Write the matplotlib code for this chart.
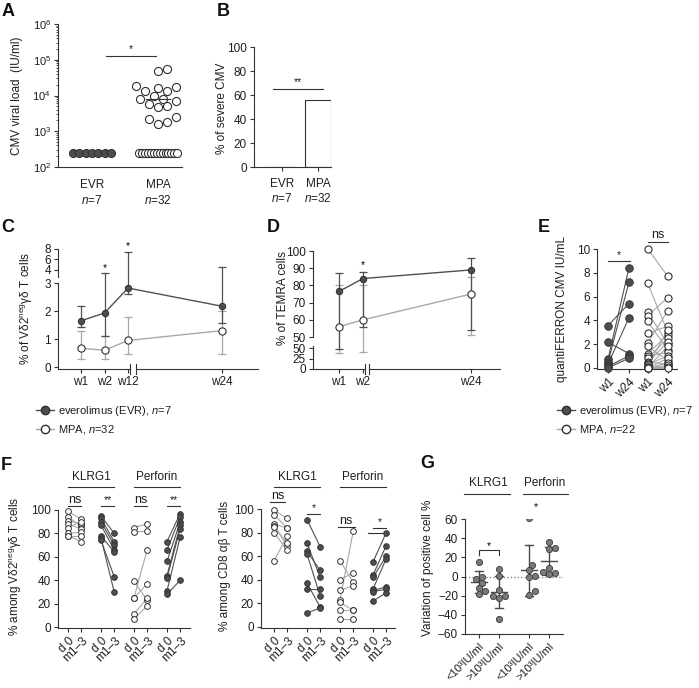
import numpy as np
import matplotlib
matplotlib.use("Agg")
import matplotlib.pyplot as plt
from matplotlib.lines import Line2D
from matplotlib.transforms import blended_transform_factory as blend

plt.rcParams['font.family'] = ['Liberation Sans', 'DejaVu Sans']
plt.rcParams['mathtext.fontset'] = 'custom'
plt.rcParams['mathtext.rm'] = 'Liberation Sans'
plt.rcParams['mathtext.it'] = 'Liberation Sans:italic'
plt.rcParams['mathtext.bf'] = 'Liberation Sans:bold'
plt.rcParams['font.size'] = 8

# ---------------- data ----------------
# A: CMV viral load
a_groups = ["EVR", "MPA"]
a_n = [7, 32]
a_limit = 250
a_evr_load = [250, 250, 250, 250, 250, 250, 250]
a_mpa_load = [55000, 47000, 18600, 17000, 16000, 13500, 13000,
              9400, 7900, 7900, 6800, 5700, 5100, 4900,
              2500, 2200, 1860, 1600,
              250, 250, 250, 250, 250, 250, 250, 250, 250, 250, 250, 250, 250, 250]
# B: severe CMV
b_severe_pct = [0, 56.25]
# C: % of Vd2neg gd T cells
c_weeks = ["w1", "w2", "w12", "w24"]
c_evr_mean = [1.65, 1.93, 2.82, 2.17]
c_evr_lo = [1.42, 1.12, 2.60, 1.57]
c_evr_hi = [2.17, 3.50, 7.50, 4.50]
c_mpa_mean = [0.67, 0.60, 0.95, 1.30]
c_mpa_lo = [0.27, 0.30, 0.47, 0.47]
c_mpa_hi = [1.30, 1.12, 1.77, 2.00]
# D: % of TEMRA cells
d_weeks = ["w1", "w2", "w24"]
d_evr_mean = [76.5, 84.0, 89.0]
d_evr_lo = [47.0, 56.0, 54.0]
d_evr_hi = [87.0, 88.0, 96.0]
d_mpa_mean = [56.0, 60.0, 75.0]
d_mpa_lo = [38.0, 40.0, 51.0]
d_mpa_hi = [80.0, 80.0, 85.0]
# E: quantiFERRON
e_ticks = ["w1", "w24", "w1", "w24"]
e_evr_w1 = [3.55, 2.15, 0.7, 0.45, 0.3, 0.12, 0.0]
e_evr_w24 = [5.4, 1.2, 8.4, 7.2, 4.2, 1.0, 0.8]
e_mpa_w1 = [10.0, 7.1, 4.7, 4.4, 3.9, 2.9, 2.1, 1.8, 1.2, 1.0, 0.8,
            0.5, 0.4, 0.3, 0.2, 0.1, 0.05, 0.0, 0.0, 0.0, 0.0, 0.0]
e_mpa_w24 = [7.7, 3.0, 2.0, 5.9, 1.5, 3.5, 4.8, 0.6, 2.8, 1.3, 2.5,
             0.3, 2.2, 1.0, 3.2, 0.1, 1.8, 0.8, 0.4, 0.2, 0.05, 0.0]
# F: paired d0 vs m1-3
f_ticks = ["d 0", "m1\u20133"] * 4
f_vd2_klrg1_mpa = ([99, 94, 91, 88, 85, 80, 78, 78], [92, 86, 88, 84, 90, 81, 73, 78])
f_vd2_klrg1_evr = ([95, 93, 90, 87, 78, 76, 74], [80, 73, 70, 66, 64, 30, 43])
f_vd2_perf_mpa = ([85, 81, 39, 25, 25, 11, 7], [88, 82, 23, 66, 37, 25, 18])
f_vd2_perf_evr = ([73, 66, 56, 44, 42, 31, 28], [97, 94, 90, 87, 84, 77, 40])
f_cd8_klrg1_mpa = ([99, 95, 87, 86, 85, 80, 56], [92, 84, 84, 69, 71, 65, 77])
f_cd8_klrg1_evr = ([91, 71, 64, 62, 37, 32, 12], [68, 42, 48, 26, 17, 32, 16])
f_cd8_perf_mpa = ([56, 40, 31, 23, 21, 14, 7], [38, 46, 35, 81, 14, 14, 7])
f_cd8_perf_evr = ([55, 44, 42, 32, 31, 30, 22], [80, 69, 60, 58, 34, 32, 29])
# G: variation of positive cells
g_ticks = ["<10\u00b3IU/ml", ">10\u00b3IU/ml", "<10\u00b3IU/ml", ">10\u00b3IU/ml"]
g_klrg1_low = [15.6, -0.4, -2.8, -6.3, -11.5, -15.0, -18.4]
g_klrg1_high = [7.6, 0.5, -14.0, -20.0, -20.0, -22.0, -44.0]
g_perf_low = [61.4, 12.1, 6.6, 0.7, 0.0, -15.6, -19.0]
g_perf_high = [36.4, 29.5, 28.5, 8.4, 5.2, 3.5, 2.5]

# ---------------- style ----------------
DARK = "#4d4d4d"
EDGE = "#303030"
EVRL = "#505050"
LIGHT = "#a8a8a8"
AXC = "#333333"
TXT = "#1e1e1e"
GREYPT = "#7a7a7a"

W, H = 699, 688
fig = plt.figure(figsize=(W / 100, H / 100), dpi=100)


def fx(x):
    return x / W


def fy(y):
    return 1 - y / H


def add_ax(l, t, r, b):
    ax = fig.add_axes([l / W, 1 - b / H, (r - l) / W, (b - t) / H])
    ax.patch.set_alpha(0)
    for s in ('top', 'right'):
        ax.spines[s].set_visible(False)
    for s in ('left', 'bottom'):
        ax.spines[s].set_color(AXC)
        ax.spines[s].set_linewidth(0.8)
    ax.tick_params(colors=AXC, labelcolor=TXT, length=3, width=0.8,
                   labelsize=8, pad=2)
    return ax


def ftext(x, y, s, **kw):
    kw.setdefault('ha', 'center')
    kw.setdefault('va', 'center')
    kw.setdefault('color', TXT)
    kw.setdefault('fontsize', 8.5)
    fig.text(fx(x), fy(y), s, **kw)


def sig(ax, x0, x1, ypx, txt=None, tsize=7.5, lw=0.8, color=AXC, toff=1):
    tr = blend(ax.transData, fig.transFigure)
    ax.plot([x0, x1], [fy(ypx), fy(ypx)], transform=tr, clip_on=False,
            color=color, lw=lw)
    if txt:
        ax.text((x0 + x1) / 2, fy(ypx - toff), txt, transform=tr, ha='center',
                va='bottom', fontsize=tsize, color=TXT, clip_on=False)


def swarm(ypx, d, step=None):
    ypx = np.asarray(ypx, float)
    step = step or d * 0.55
    order = np.argsort(ypx)
    placed = []
    off = np.zeros(len(ypx))
    for i in order:
        k = 0
        while True:
            cands = [0.0] if k == 0 else [k * step, -k * step]
            done = False
            for c in cands:
                if all((c - px) ** 2 + (ypx[i] - py) ** 2 >= (d * 0.98) ** 2
                       for px, py in placed):
                    off[i] = c
                    placed.append((c, ypx[i]))
                    done = True
                    break
            if done:
                break
            k += 1
    return off


# ---------------- panel letters ----------------
for lab, x, y in [("A", 8, 11), ("B", 223, 11), ("C", 8, 228), ("D", 273, 228),
                  ("E", 544, 227), ("F", 6, 465), ("G", 427, 464)]:
    ftext(x, y, lab, fontsize=13, fontweight='bold', color='#111111')

# ---------------- A ----------------
axA = add_ax(58, 24, 182, 167)
axA.set_yscale('log')
axA.set_ylim(1e2, 1e6)
axA.set_xlim(-0.515, 1.36)
ppu_A, ppd_A = 66.0, 35.6
for gi, vals in enumerate([a_evr_load, a_mpa_load]):
    vals = np.asarray(vals, float)
    xs = np.zeros(len(vals))
    atlim = vals <= a_limit
    nl = atlim.sum()
    xs[atlim] = np.linspace(-19, 19, nl) / ppu_A
    if (~atlim).sum():
        xs[~atlim] = swarm(np.log10(vals[~atlim]) * ppd_A, 8.2) / ppu_A
    if gi == 0:
        axA.scatter(gi + xs, vals, s=34, facecolor=DARK, edgecolor=EDGE, lw=0.7, zorder=3)
    else:
        axA.scatter(gi + xs, vals, s=34, facecolor='white', edgecolor=EDGE, lw=0.8, zorder=3)
        med = np.median(vals[~atlim])
        axA.plot([gi - 0.18, gi + 0.18], [med, med], color=AXC, lw=0.8, zorder=4)
axA.set_xticks([0, 1])
axA.set_xticklabels([f"{g}\n$\\mathit{{n}}$={n}" for g, n in zip(a_groups, a_n)],
                    fontsize=8.5)
axA.tick_params(axis='x', length=0, pad=9)
axA.set_yticks([1e2, 1e3, 1e4, 1e5, 1e6])
axA.tick_params(axis='y', which='minor', length=1.8, width=0.5)
sig(axA, 0.21, 0.97, 56, "*", toff=2)
ftext(17, 96, "CMV viral load  (IU/ml)", rotation=90)

# ---------------- B ----------------
axB = add_ax(254, 47, 331, 167)
axB.set_ylim(0, 100)
axB.set_xlim(-0.78, 1.36)
axB.bar([0, 1], b_severe_pct, width=0.7, facecolor='white', edgecolor=AXC, lw=0.8)
axB.set_xticks([0, 1])
axB.set_xticklabels([f"{g}\n$\\mathit{{n}}$={n}" for g, n in zip(a_groups, a_n)],
                    fontsize=8.5)
axB.tick_params(axis='x', pad=5)
axB.set_yticks(range(0, 101, 20))
axB.tick_params(axis='y', labelsize=8.5)
sig(axB, -0.25, 1.14, 89, "**", toff=2)
ftext(222, 108, "% of severe CMV", rotation=90)


# ---------------- broken-axis helpers ----------------
def cap(ax, x, y, cw, color, lw):
    ax.plot([x - cw, x + cw], [y, y], color=color, lw=lw, solid_capstyle='butt')


def broken_err(ax_lo, ax_hi, x, lo, hi, brk, color, cw, lw=0.9):
    top_lo = ax_lo.get_ylim()[1]
    bot_hi = ax_hi.get_ylim()[0]
    if hi <= brk:
        ax_lo.plot([x, x], [lo, hi], color=color, lw=lw)
        cap(ax_lo, x, lo, cw, color, lw)
        cap(ax_lo, x, hi, cw, color, lw)
    elif lo >= brk:
        ax_hi.plot([x, x], [lo, hi], color=color, lw=lw)
        cap(ax_hi, x, lo, cw, color, lw)
        cap(ax_hi, x, hi, cw, color, lw)
    else:
        ax_lo.plot([x, x], [lo, top_lo], color=color, lw=lw)
        ax_hi.plot([x, x], [bot_hi, hi], color=color, lw=lw)
        cap(ax_lo, x, lo, cw, color, lw)
        cap(ax_hi, x, hi, cw, color, lw)


def xbreak(ax, xs, xlim):
    ax.spines['bottom'].set_visible(False)
    tr = ax.get_xaxis_transform()
    ax.plot([xlim[0], xs[0]], [0, 0], transform=tr, clip_on=False, color=AXC, lw=0.8)
    ax.plot([xs[1], xlim[1]], [0, 0], transform=tr, clip_on=False, color=AXC, lw=0.8)
    h = 5.0 / (ax.get_position().height * H)
    for xb in xs:
        ax.plot([xb, xb], [-h, h], transform=tr, clip_on=False, color=AXC, lw=0.8)


# ---------------- C ----------------
c_pos = [0, 1, 2, 6]
c_xlim = (-0.98, 7.53)
axCl = add_ax(58, 283, 258, 369)
axCh = add_ax(58, 248, 258, 283)
axCl.set_ylim(-0.07, 3.0)
axCh.set_ylim(1.524, 8.19)
for a in (axCl, axCh):
    a.set_xlim(*c_xlim)
    a.autoscale(False)
axCh.spines['bottom'].set_visible(False)
axCh.spines['left'].set_bounds(2.67, 8.0)
axCh.set_xticks([])
axCh.set_yticks([4, 6, 8])
axCl.set_yticks([0, 1, 2, 3])
axCl.set_xticks(c_pos)
axCl.set_xticklabels(c_weeks, fontsize=8.5)
for a in (axCl, axCh):
    a.tick_params(axis='y', labelsize=8.5)
for i, x in enumerate(c_pos):
    broken_err(axCl, axCh, x, c_mpa_lo[i], c_mpa_hi[i], 3.0, LIGHT, 0.17)
for i, x in enumerate(c_pos):
    broken_err(axCl, axCh, x, c_evr_lo[i], c_evr_hi[i], 3.0, EVRL, 0.17)
axCl.plot(c_pos, c_mpa_mean, '-o', color=LIGHT, mfc='white', mec=EDGE, ms=5.2, lw=1, mew=0.8, zorder=4)
axCl.plot(c_pos, c_evr_mean, '-o', color=EVRL, mfc=DARK, mec=EDGE, ms=4.6, lw=1, mew=0.7, zorder=5)
xbreak(axCl, (2.09, 2.32), c_xlim)
for x, ypx in [(1, 268), (2, 246)]:
    tr = blend(axCh.transData, fig.transFigure)
    axCh.text(x, fy(ypx), "*", transform=tr, ha='center', va='center', fontsize=7.5, clip_on=False)
ftext(27, 308, "% of V\u03b42$^{\\mathrm{neg}}$\u03b3\u03b4 T cells", rotation=90)

# ---------------- D ----------------
d_pos = [0, 1, 5.5]
d_xlim = (-1.08, 6.7)
axDh = add_ax(313, 251, 500, 346)
axDl = add_ax(313, 346, 500, 369)
axDh.set_ylim(44.77, 100)
axDl.set_ylim(0, 54.8)
for a in (axDl, axDh):
    a.set_xlim(*d_xlim)
    a.autoscale(False)
    a.tick_params(axis='y', labelsize=8.5)
axDh.spines['bottom'].set_visible(False)
axDh.spines['left'].set_bounds(50, 100)
axDh.set_xticks([])
axDh.set_yticks(range(50, 101, 10))
axDl.set_yticks([0, 25, 50])
axDl.set_xticks(d_pos)
axDl.set_xticklabels(d_weeks, fontsize=8.5)
for i, x in enumerate(d_pos):
    broken_err(axDl, axDh, x, d_mpa_lo[i], d_mpa_hi[i], 50.0, LIGHT, 0.17)
for i, x in enumerate(d_pos):
    broken_err(axDl, axDh, x, d_evr_lo[i], d_evr_hi[i], 50.0, EVRL, 0.17)
axDh.plot(d_pos, d_mpa_mean, '-o', color=LIGHT, mfc='white', mec=EDGE, ms=5.2, lw=1, mew=0.8, zorder=4)
axDh.plot(d_pos, d_evr_mean, '-o', color=EVRL, mfc=DARK, mec=EDGE, ms=4.6, lw=1, mew=0.7, zorder=5)
xbreak(axDl, (1.08, 1.25), d_xlim)
tr = blend(axDh.transData, fig.transFigure)
axDh.text(1, fy(265), "*", transform=tr, ha='center', va='center', fontsize=7.5, clip_on=False)
ftext(283, 298, "% of TEMRA cells", rotation=90)

# ---------------- legends ----------------
h_evr = Line2D([], [], color=EVRL, marker='o', mfc=DARK, mec=EDGE, ms=6, lw=1)
h_mpa = Line2D([], [], color=LIGHT, marker='o', mfc='white', mec=EDGE, ms=6, lw=1)
for x0, nm in [(36, 32), (557, 22)]:
    leg = fig.legend([h_evr, h_mpa],
                     ["everolimus (EVR), $\\mathit{n}$=7", f"MPA, $\\mathit{{n}}$={nm}"],
                     loc='upper left', bbox_to_anchor=(fx(x0), fy(404)), frameon=False,
                     fontsize=8, handlelength=1.6, handletextpad=0.4,
                     labelspacing=0.45, borderpad=0, borderaxespad=0)
    for t in leg.get_texts():
        t.set_color(TXT)

# ---------------- E ----------------
e_pos = [0, 1, 1.9, 2.85]
axE = add_ax(597, 249, 677, 369)
axE.set_ylim(-0.1, 10)
axE.set_xlim(-0.52, 3.29)
axE.autoscale(False)
for a, b in zip(e_mpa_w1, e_mpa_w24):
    axE.plot([e_pos[2], e_pos[3]], [a, b], color=LIGHT, lw=0.8, zorder=2)
axE.scatter([e_pos[2]] * len(e_mpa_w1), e_mpa_w1, s=26, facecolor='white', edgecolor=EDGE, lw=0.8, zorder=3, clip_on=False)
axE.scatter([e_pos[3]] * len(e_mpa_w24), e_mpa_w24, s=26, facecolor='white', edgecolor=EDGE, lw=0.8, zorder=3, clip_on=False)
for a, b in zip(e_evr_w1, e_evr_w24):
    axE.plot([e_pos[0], e_pos[1]], [a, b], color=EVRL, lw=0.8, zorder=2)
axE.scatter([e_pos[0]] * len(e_evr_w1), e_evr_w1, s=30, facecolor=DARK, edgecolor=EDGE, lw=0.6, zorder=3, clip_on=False)
axE.scatter([e_pos[1]] * len(e_evr_w24), e_evr_w24, s=30, facecolor=DARK, edgecolor=EDGE, lw=0.6, zorder=3, clip_on=False)
axE.set_yticks(range(0, 11, 2))
axE.tick_params(axis='y', labelsize=8.5)
axE.set_xticks(e_pos)
axE.set_xticklabels(e_ticks, rotation=45, ha='right', va='top', rotation_mode='anchor', fontsize=8.5)
sig(axE, 0.0, 1.05, 261, "*", toff=1)
sig(axE, 1.9, 2.86, 242, "ns", tsize=9, toff=1)
ftext(562, 309, "quantiFERRON CMV IU/mL", rotation=90)

# ---------------- F ----------------
f_pos = [0, 1, 2.5, 3.5, 5, 6, 7.5, 8.5]


def paired(ax, data, x0, x1, filled):
    d0, m13 = data
    col = EVRL if filled else LIGHT
    for a, b in zip(d0, m13):
        ax.plot([x0, x1], [a, b], color=col, lw=0.8, zorder=2)
    kw = dict(s=17, zorder=3, clip_on=False)
    if filled:
        kw.update(facecolor=DARK, edgecolor=EDGE, lw=0.6)
    else:
        kw.update(facecolor='white', edgecolor=EDGE, lw=0.7)
    ax.scatter([x0] * len(d0), d0, **kw)
    ax.scatter([x1] * len(m13), m13, **kw)


def fpanel(l, t, r, b, datasets, ylabel, ylx):
    ax = add_ax(l, t, r, b)
    ax.set_ylim(-0.85, 100)
    x_lo = -(68 - 58) / 13.2 if l == 58 else -(274 - 261) / 13.2
    ax.set_xlim(x_lo, x_lo + (r - l) / 13.2)
    ax.autoscale(False)
    for k, (data, filled) in enumerate(datasets):
        paired(ax, data, f_pos[2 * k], f_pos[2 * k + 1], filled)
    ax.set_yticks(range(0, 101, 20))
    ax.tick_params(axis='y', labelsize=8.5)
    ax.set_xticks(f_pos)
    ax.set_xticklabels(f_ticks, rotation=45, ha='right', va='top',
                       rotation_mode='anchor', fontsize=8.5)
    ftext(ylx, (t + b) / 2 - 3, ylabel, rotation=90)
    return ax


axF1 = fpanel(58, 510, 190, 628,
              [(f_vd2_klrg1_mpa, False), (f_vd2_klrg1_evr, True),
               (f_vd2_perf_mpa, False), (f_vd2_perf_evr, True)],
              "% among V\u03b42$^{\\mathrm{neg}}$\u03b3\u03b4 T cells", 16)
axF2 = fpanel(261, 509, 395, 628,
              [(f_cd8_klrg1_mpa, False), (f_cd8_klrg1_evr, True),
               (f_cd8_perf_mpa, False), (f_cd8_perf_evr, True)],
              "% among CD8 \u03b1\u03b2 T cells", 225)
for ax in (axF1, axF2):
    tr = blend(ax.transData, fig.transFigure)
    for (x0, x1), name in [((0, 3.5), "KLRG1"), ((5, 8.5), "Perforin")]:
        sig(ax, x0, x1, 487, None)
        ax.text((x0 + x1) / 2, fy(477), name, transform=tr, ha='center', va='center',
                fontsize=8.5, color=TXT, clip_on=False)
sig(axF1, 0, 1, 506, "ns", tsize=9, toff=0)
sig(axF1, 2.5, 3.5, 506, "**", toff=1)
sig(axF1, 5, 6, 506, "ns", tsize=9, toff=0)
sig(axF1, 7.5, 8.5, 506, "**", toff=1)
sig(axF2, -0.3, 0.85, 502, "ns", tsize=9, toff=0)
sig(axF2, 2.5, 3.5, 514, "*", toff=1)
sig(axF2, 4.85, 6.1, 527, "ns", tsize=9, toff=0)
sig(axF2, 7.5, 8.5, 528, "*", toff=1)
sig(axF2, 7.1, 8.2, 533, None)

# ---------------- G ----------------
g_pos = [0, 1, 2.5, 3.5]
axG = add_ax(465, 519, 563, 634)
axG.set_ylim(-60, 60)
axG.set_xlim(-0.7, 4.2)
axG.autoscale(False)
axG.axhline(0, color='#8a8a8a', lw=1.0, ls=(0, (1, 1.5)), zorder=1)
for x, vals in zip(g_pos, [g_klrg1_low, g_klrg1_high, g_perf_low, g_perf_high]):
    vals = np.asarray(vals, float)
    m, s = vals.mean(), vals.std(ddof=1)
    axG.plot([x, x], [m - s, m + s], color='#4a4a4a', lw=1.0, zorder=2)
    axG.plot([x - 0.4, x + 0.4], [m, m], color='#4a4a4a', lw=1.0, zorder=2)
    for yv in (m - s, m + s):
        axG.plot([x - 0.2, x + 0.2], [yv, yv], color='#4a4a4a', lw=1.0, zorder=2)
    offs = swarm(vals * 0.96, 5.6) / 20.0
    axG.scatter(x + offs, vals, s=20, facecolor=GREYPT, edgecolor='#3a3a3a', lw=0.6, zorder=3)
axG.set_yticks(range(-60, 61, 20))
axG.tick_params(axis='y', labelsize=8.5)
axG.set_xticks(g_pos)
axG.set_xticklabels(g_ticks, rotation=45, ha='right', va='top', rotation_mode='anchor', fontsize=8)
trG = blend(axG.transData, fig.transFigure)
for (x0, x1), name, cx in [((-0.75, 1.55), "KLRG1", 0.45), ((2.2, 4.45), "Perforin", 3.3)]:
    sig(axG, x0, x1, 494, None)
    axG.text(cx, fy(483), name, transform=trG, ha='center', va='center', fontsize=8.5,
             color=TXT, clip_on=False)
axG.text(2.85, fy(507), "*", transform=trG, ha='center', va='center', fontsize=7.5, clip_on=False)
axG.plot([0, 0, 1, 1], [fy(555), fy(550), fy(550), fy(555)], transform=trG, color=AXC, lw=0.8, clip_on=False)
axG.text(0.5, fy(546), "*", transform=trG, ha='center', va='center', fontsize=7.5, clip_on=False)
ftext(428, 568, "Variation of positive cell %", rotation=90)

fig.savefig("out.png", dpi=100)
